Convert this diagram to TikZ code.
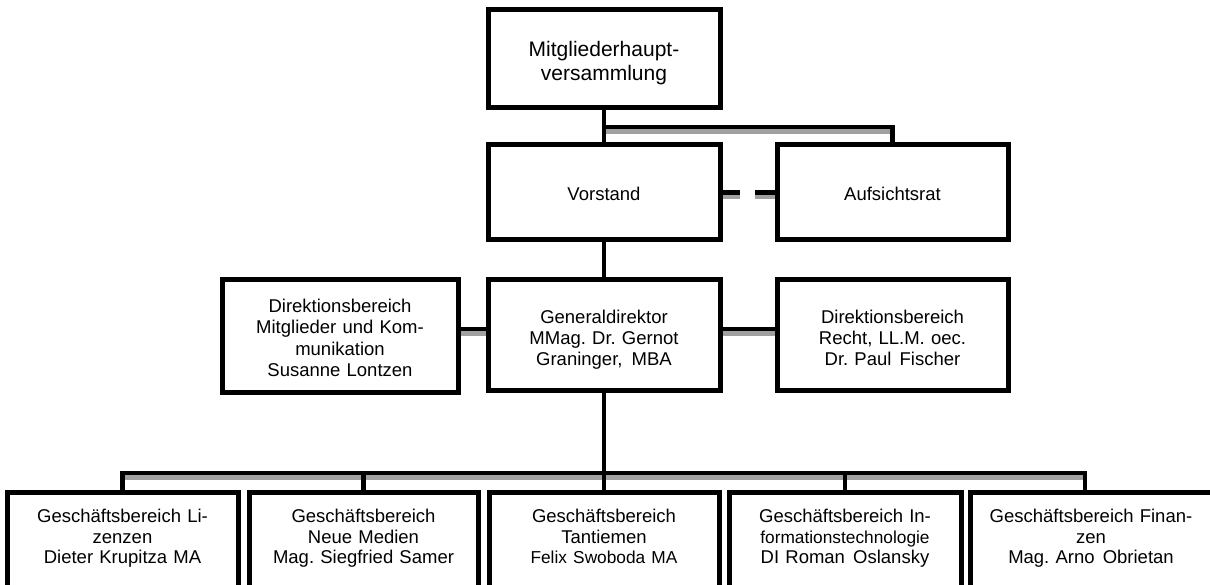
\documentclass[tikz,border=0pt]{standalone}
\usepackage{fontspec}
\setmainfont{Liberation Sans}
\usetikzlibrary{calc}
\pgfdeclarelayer{paper}
\pgfdeclarelayer{bg}
\pgfsetlayers{paper,bg,main}
\definecolor{shadowgrey}{RGB}{160,160,160}
\frenchspacing
\newcommand\orgfont{\fontsize{18.5}{21.2}\selectfont\frenchspacing}
\newcommand\botfont{\fontsize{18.5}{20.5}\selectfont\frenchspacing}
\newcommand\narrowline{\fontsize{17.3}{20.5}\selectfont}
\newcommand\linkpath[2][]{%
  \begin{pgfonlayer}{bg}\draw[shad,#1] #2;\end{pgfonlayer}%
  \draw[conn,#1] #2;}
\begin{document}
\begin{tikzpicture}[x=1pt,y=-1pt,
  box/.style={draw=black, line width=5pt, fill=white, align=center, anchor=north,
    inner sep=0pt, outer sep=0pt, font=\orgfont},
  botbox/.style={box, font=\botfont, text height=30.5pt, text depth=110pt},
  conn/.style={line width=4.6pt, draw=black},
  shad/.style={line width=4.6pt, draw=shadowgrey, transform canvas={yshift=-4.3pt}},
  gapdash/.style={dash pattern=on 20pt off 15pt}
]
\useasboundingbox (0,0) rectangle (1210,585);
\begin{pgfonlayer}{paper}
\fill[white] (0,0) rectangle (1210,585);
\end{pgfonlayer}
\clip (0,0) rectangle (1210,585);

% boxes (anchored at their top border)
\node[box, text width=232pt, text height=46.5pt, text depth=51.5pt,
      font=\fontsize{21}{24}\selectfont] (mhv) at (604,10) {Mitgliederhaupt-\\versammlung};
\node[box, text width=232pt, text height=56pt, text depth=39pt] (vor) at (604,145) {Vorstand};
\node[box, text width=231pt, text height=56pt, text depth=39pt] (auf) at (892.5,145) {Aufsichtsrat};
\node[box, text width=232pt, text height=43.3pt, text depth=66.7pt] (gen) at (604,280)
  {Generaldirektor\\MMag. Dr. Gernot\\Graninger,\hspace{3pt} MBA};
\node[box, text width=236pt, text height=32.6pt, text depth=79.4pt] (ldir) at (340,280)
  {Direktionsbereich\\Mitglieder und Kom-\\munikation\\Susanne Lontzen};
\node[box, text width=231pt, text height=43.3pt, text depth=66.7pt] (rdir) at (892.5,280)
  {Direktionsbereich\\Recht, LL.M. oec.\\Dr. Paul\hspace{2pt} Fischer};

\node[botbox, text width=231pt] (b1) at (122.5,492)
  {Geschäftsbereich Li-\\zenzen\\Dieter Krupitza MA};
\node[botbox, text width=229pt] (b2) at (363.5,492)
  {Geschäftsbereich\\Neue Medien\\Mag. Siegfried Samer};
\node[botbox, text width=230pt] (b3) at (604,492)
  {Geschäftsbereich\\Tantiemen\\{\narrowline Felix Swoboda MA}};
\node[botbox, text width=232pt] (b4) at (845,492)
  {Geschäftsbereich In-\\{\narrowline formationstechnologie}\\DI Roman\hspace{2pt} Oslansky};
\node[botbox, text width=242pt] (b5) at (1091,492)
  {Geschäftsbereich Finan-\\zen\\Mag. Arno\hspace{2pt} Obrietan};

% junctions
\coordinate (j1) at (604,127);
\coordinate (bus) at (604,473);

% connectors (each with its grey shadow)
\linkpath{(mhv.south) -- (vor.north) (j1) -| (auf.north)}
\linkpath[gapdash]{(vor.east) -- (auf.west)}
\linkpath{(vor.south) -- (gen.north)}
\linkpath{([yshift=7pt]ldir.east) -- ([yshift=7pt]ldir.east -| gen.west)}
\linkpath{([yshift=6pt]gen.east) -- ([yshift=6pt]gen.east -| rdir.west)}
\linkpath{(gen.south) -- (b3.north)}
\linkpath{(b1.north) |- (bus) -| ([xshift=-6pt]b5.north)}
\linkpath{(b2.north) -- (b2.north |- bus)}
\linkpath{(b4.north) -- (b4.north |- bus)}
\end{tikzpicture}
\end{document}
